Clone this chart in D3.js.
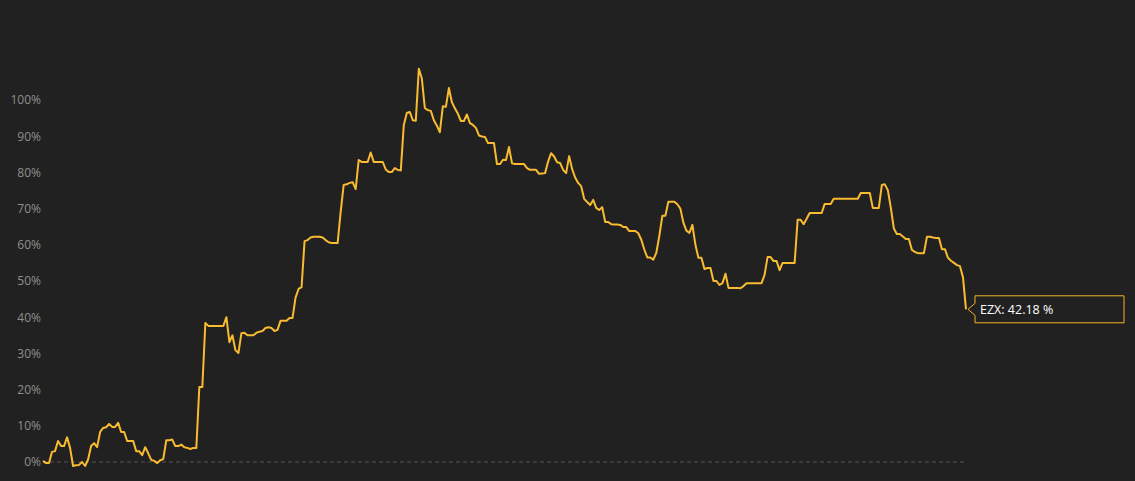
<!DOCTYPE html>
<html>
<head>
<meta charset="utf-8">
<script src="https://cdn.jsdelivr.net/npm/d3@7"></script>
<style>
  html, body { margin: 0; padding: 0; background: #212121; }
  #chart { width: 1135px; height: 481px; }
  .axis text { font-family: 'Open Sans', sans-serif; font-size: 12px; fill: #8f8f8f; }
</style>
</head>
<body>
<div id="chart"></div>
<script>
// Data
const seriesName = 'EZX'
const lastValue = 42.18
const tickValues = [0, 10, 20, 30, 40, 50, 60, 70, 80, 90, 100]
const values = [
  0.3, -0.3, -0.3, 2.8, 3.0, 5.8, 4.4, 4.4, 6.8, 3.9,
  -1.1, -0.9, -0.8, 0, -1.1, 0.7, 4.4, 5.2, 4.1, 8.3,
  9.4, 9.6, 10.5, 9.7, 9.7, 10.8, 8.3, 8.3, 5.8, 5.8,
  5.8, 3.0, 3.0, 1.9, 4.1, 2.4, 0.6, 0.3, -0.3, 0.5,
  0.8, 6.0, 6.0, 6.2, 4.4, 4.4, 4.8, 4.1, 3.9, 3.6,
  3.9, 3.9, 20.7, 20.7, 38.4, 37.6, 37.6, 37.6, 37.6, 37.6,
  37.6, 40.0, 33.1, 35.0, 30.9, 30.1, 35.6, 35.7, 35.0, 35.0,
  35.0, 35.7, 36.0, 36.2, 37.0, 37.2, 37.0, 36.2, 36.5, 39.0,
  39.0, 39.0, 39.8, 39.8, 45.4, 47.8, 48.3, 61.0, 61.3, 62.0,
  62.2, 62.2, 62.2, 62.0, 61.3, 60.7, 60.5, 60.5, 60.5, 69.0,
  76.5, 76.7, 77.1, 77.3, 75.4, 83.4, 82.9, 82.9, 82.9, 85.5,
  82.9, 82.9, 82.9, 82.9, 80.8, 80.1, 80.1, 81.2, 80.7, 80.5,
  93.0, 96.4, 96.7, 94.4, 94.3, 108.6, 106.0, 97.8, 97.2, 97.0,
  94.4, 92.9, 91.1, 98.3, 98.1, 103.3, 99.4, 97.7, 96.2, 94.2,
  94.2, 96.0, 93.6, 93.1, 92.3, 90.2, 89.9, 89.8, 88.1, 88.1,
  88.1, 82.3, 82.3, 83.5, 83.4, 87.0, 82.5, 82.3, 82.3, 82.3,
  82.3, 81.2, 80.7, 80.7, 80.7, 79.6, 79.7, 79.8, 83.0, 85.3,
  84.4, 82.8, 82.6, 80.7, 79.8, 84.5, 80.9, 78.6, 77.1, 76.2,
  72.7, 71.8, 71.0, 72.4, 70.2, 69.6, 70.4, 66.3, 66.3, 65.7,
  65.6, 65.6, 65.5, 64.9, 64.9, 63.8, 63.8, 63.8, 63.2, 61.4,
  58.7, 56.5, 56.5, 55.9, 57.8, 62.5, 68.0, 68.0, 71.9, 71.9,
  71.9, 71.2, 70.0, 66.1, 63.9, 63.3, 65.5, 60.0, 56.4, 56.4,
  53.3, 53.6, 53.6, 50.0, 50.0, 48.9, 49.4, 52.0, 48.1, 48.1,
  48.1, 48.1, 48.0, 48.6, 49.4, 49.4, 49.4, 49.4, 49.4, 49.4,
  51.7, 56.6, 56.6, 55.5, 55.5, 53.0, 55.0, 55.0, 55.0, 55.0,
  55.0, 66.9, 66.9, 65.7, 67.2, 68.8, 68.8, 68.8, 68.8, 68.8,
  71.3, 71.3, 71.3, 72.7, 72.7, 72.7, 72.7, 72.7, 72.7, 72.7,
  72.7, 72.7, 74.3, 74.3, 74.3, 74.3, 70.2, 70.2, 70.2, 76.5,
  76.7, 75.1, 70.2, 64.5, 63.0, 63.0, 62.3, 61.6, 61.6, 58.6,
  58.0, 57.7, 57.7, 57.7, 62.2, 62.2, 62.0, 61.9, 61.9, 58.8,
  58.8, 56.4, 55.6, 55.0, 54.4, 54.1, 51.0, 42.18
]

const width = 1135
const height = 481

const svg = d3.select('#chart')
  .append('svg')
  .attr('width', width)
  .attr('height', height)

svg.append('rect')
  .attr('width', width)
  .attr('height', height)
  .attr('fill', '#212121')

// Scales
const xScale = d3.scaleLinear()
  .domain([0, values.length - 1])
  .range([43, 966])

const yScale = d3.scaleLinear()
  .domain([0, 100])
  .range([462, 100])

// Axis
const yAxis = d3.axisLeft(yScale)
  .tickValues(tickValues)
  .tickSize(0)
  .tickPadding(0)
  .tickFormat(d => d + '%')

const yAxisGroup = svg.append('g')
  .attr('transform', 'translate(41, 0)')
  .classed('axis', true)
  .call(yAxis)

yAxisGroup.select('.domain').remove()

// zero line
svg.append('line')
  .attr('x1', xScale(0))
  .attr('x2', xScale(values.length - 1))
  .attr('y1', yScale(0))
  .attr('y2', yScale(0))
  .attr('stroke', '#555')
  .attr('stroke-width', 1)
  .attr('stroke-dasharray', '4,3')

// Line
const line = d3.line()
  .x((d, i) => xScale(i))
  .y(d => yScale(d))

svg.append('path')
  .datum(values)
  .attr('d', line)
  .attr('fill', 'none')
  .attr('stroke', '#f9bb30')
  .attr('stroke-width', 2)
  .attr('stroke-linejoin', 'round')

// Label at the end of the line
const lx = xScale(values.length - 1)
const ly = yScale(lastValue)

const label = svg.append('g')
  .attr('transform', `translate(${lx + 2}, ${ly})`)

label.append('path')
  .attr('d', 'M7,-13.5 H156 V13.5 H7 V6 L0,0 L7,-6 Z')
  .attr('fill', '#212121')
  .attr('stroke', '#f5b326')
  .attr('stroke-width', 1)

label.append('text')
  .attr('x', 12)
  .attr('y', 4.5)
  .attr('fill', '#ffffff')
  .style('font-family', "'Open Sans', sans-serif")
  .style('font-size', '12.5px')
  .text(`${seriesName}: ${lastValue} %`)
</script>
</body>
</html>
